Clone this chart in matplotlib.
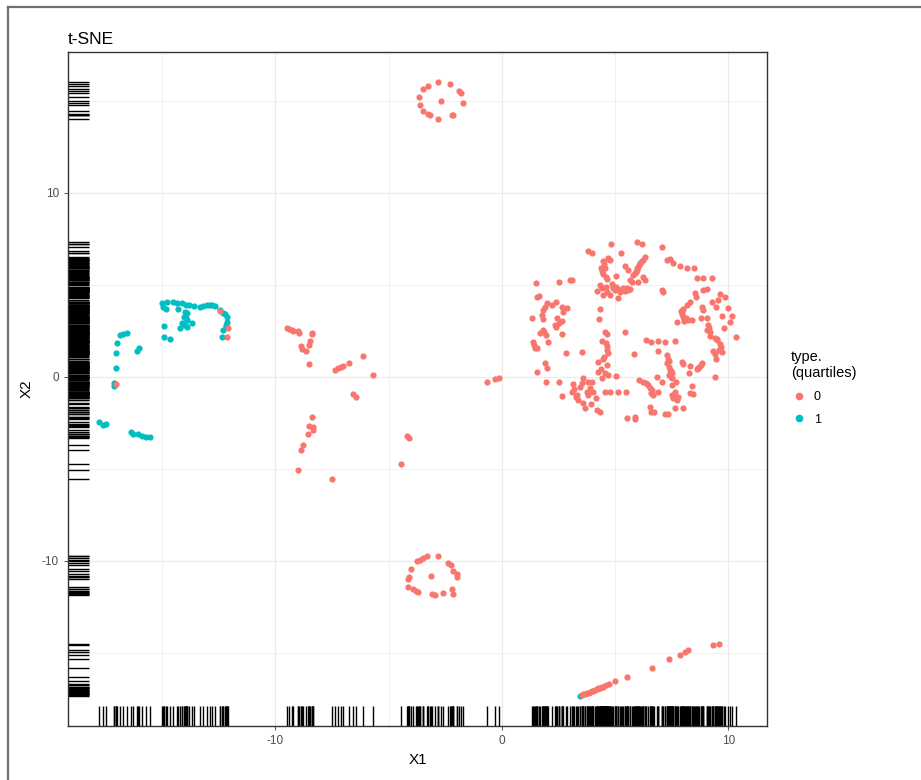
import numpy as np
import matplotlib
matplotlib.use("Agg")
import matplotlib.pyplot as plt
from matplotlib.lines import Line2D

plt.rcParams["font.family"] = ["Liberation Sans", "DejaVu Sans"]
plt.rcParams["axes.unicode_minus"] = False

# t-SNE embedding, type 0 (red), cluster by cluster
top_ring = [(-2.84, 16.02), (-2.30, 15.91), (-3.28, 15.82), (-3.50, 15.64), (-1.88, 15.56),
            (-1.82, 15.45), (-3.66, 15.23), (-2.69, 15.01), (-1.74, 14.87), (-3.62, 14.78),
            (-3.50, 14.47), (-3.25, 14.28), (-3.18, 14.24), (-2.22, 14.24), (-2.15, 14.24),
            (-2.84, 14.04)]

bottom_ring = [(-3.30, -9.73), (-3.48, -9.86), (-3.62, -9.95), (-3.77, -9.98), (-2.81, -9.73),
               (-2.37, -10.10), (-2.27, -10.22), (-2.15, -10.53), (-4.03, -10.46), (-3.13, -10.80),
               (-2.00, -10.71), (-1.97, -10.85), (-4.11, -10.89), (-4.14, -11.00), (-4.14, -11.40),
               (-3.94, -11.54), (-3.80, -11.62), (-3.70, -11.70), (-2.22, -11.54), (-2.18, -11.79),
               (-2.59, -11.72), (-3.10, -11.79), (-2.96, -11.85)]

middle = [(-9.51, 2.65), (-9.39, 2.59), (-9.29, 2.53), (-9.21, 2.52), (-8.99, 2.50), (-8.95, 2.37),
          (-8.40, 2.41), (-8.37, 2.32), (-8.48, 1.96), (-8.51, 1.74), (-8.89, 1.68), (-8.84, 1.50),
          (-8.65, 1.41), (-8.51, 0.72), (-7.37, 0.38), (-7.25, 0.47), (-7.12, 0.54), (-7.01, 0.60),
          (-6.74, 0.78), (-6.15, 1.16), (-5.71, 0.11), (-6.57, -0.94), (-6.46, -1.07),
          (-8.40, -2.16), (-8.51, -2.65), (-8.33, -2.74), (-8.33, -2.88), (-8.58, -3.12),
          (-8.80, -3.70), (-8.87, -3.97), (-9.02, -5.05), (-7.52, -5.54), (-4.21, -3.19),
          (-4.09, -3.33), (-4.46, -4.73), (-0.66, -0.27), (-0.31, -0.11), (-0.13, -0.05)]

red_in_teal = [(-12.45, 3.59), (-12.10, 2.66), (-12.14, 2.17), (-17.04, -0.38)]

diag_line = [(3.52, -17.30), (3.59, -17.25), (3.67, -17.22), (3.74, -17.20), (3.82, -17.16),
             (3.89, -17.12), (3.96, -17.08), (4.03, -17.05), (4.10, -17.01), (4.18, -16.98),
             (4.25, -16.93), (4.33, -16.89), (4.40, -16.86), (4.47, -16.83), (4.60, -16.76),
             (4.74, -16.68), (4.99, -16.52), (5.51, -16.32),
             (6.62, -15.83), (7.37, -15.34), (7.86, -15.13), (8.08, -14.95), (8.23, -14.86),
             (9.30, -14.57), (9.59, -14.53)]

big_left = [(4.80, 7.21), (3.81, 6.85), (3.96, 6.72), (5.25, 6.72), (4.69, 6.49), (4.47, 6.30),
            (4.77, 6.36), (4.37, 5.91), (4.55, 5.94), (4.44, 5.58), (4.59, 5.45), (5.03, 5.51),
            (5.43, 6.05), (5.58, 5.82), (5.80, 5.54), (5.65, 5.27), (1.50, 5.09), (2.52, 5.18),
            (3.00, 5.25), (3.08, 5.25), (4.33, 5.00), (4.40, 4.86), (4.21, 4.67), (4.59, 4.91),
            (4.84, 5.04), (4.92, 4.86), (5.14, 4.78), (5.36, 4.86), (5.50, 4.82), (5.65, 4.78),
            (5.21, 4.60), (4.77, 4.46), (4.47, 4.46), (5.14, 4.31), (1.56, 4.37), (1.65, 4.42),
            (2.38, 4.06), (2.00, 4.00), (1.90, 3.82), (1.82, 3.64), (2.63, 3.82), (2.86, 3.77),
            (2.71, 3.51), (1.75, 3.37), (1.31, 3.22), (1.82, 3.15), (2.63, 3.04), (2.53, 2.92),
            (2.34, 2.83), (2.38, 2.74), (4.33, 3.70), (4.30, 3.15), (4.55, 2.46), (4.62, 2.32),
            (5.43, 2.46), (1.80, 2.55), (1.85, 2.46), (1.94, 2.28), (2.63, 2.36), (2.05, 1.92),
            (1.38, 1.92), (1.46, 1.56), (1.56, 1.59), (4.40, 1.96), (4.65, 1.68), (4.65, 1.47),
            (4.69, 1.29), (2.83, 1.30), (3.52, 1.38), (5.83, 1.25), (1.90, 0.74), (1.97, 0.47),
            (1.53, 0.29), (4.25, 0.83), (4.65, 0.65), (4.25, 0.29), (4.55, 0.20), (4.69, 0.11),
            (4.40, -0.07), (5.03, 0.07), (1.94, -0.25), (2.52, -0.25), (3.15, -0.40), (3.59, -0.04),
            (3.52, -0.34), (3.81, -0.25), (3.96, -0.25), (3.18, -0.67), (3.08, -0.80), (3.74, -0.80),
            (4.00, -0.80), (2.63, -1.03), (3.30, -0.98), (3.37, -1.25), (3.81, -0.98), (4.15, -1.12),
            (3.59, -1.43), (3.66, -1.70), (4.18, -1.79), (4.33, -1.88), (4.55, -0.80), (4.77, -0.80),
            (5.14, -0.80), (5.47, -0.80), (5.50, -2.21), (5.87, -2.16)]

big_right = [(5.95, 7.36), (6.17, 7.21), (7.05, 7.08), (6.31, 6.54), (6.24, 6.36), (6.09, 6.18),
             (6.02, 6.00), (5.95, 5.82), (5.87, 5.63), (5.72, 5.18), (6.02, 5.18), (6.31, 5.27),
             (6.24, 5.45), (7.27, 6.36), (7.42, 6.41), (7.56, 6.18), (7.86, 6.05), (8.18, 5.94),
             (8.48, 5.94), (8.59, 5.36), (8.89, 5.36), (9.26, 5.36), (7.05, 4.73), (7.12, 4.64),
             (8.52, 4.55), (8.57, 4.37), (8.89, 4.73), (9.07, 4.78), (9.62, 4.49), (9.85, 4.37),
             (9.55, 4.18), (8.30, 4.09), (8.15, 3.91), (7.98, 3.70), (7.93, 3.51), (8.01, 3.28),
             (8.08, 3.15), (8.23, 3.10), (8.37, 3.10), (7.71, 2.97), (8.82, 3.82), (8.86, 3.64),
             (9.26, 4.09), (9.45, 3.82), (9.99, 3.77), (10.17, 3.33), (9.70, 3.33), (10.07, 3.01),
             (9.04, 3.22), (8.77, 3.22), (9.11, 2.83), (9.15, 2.64), (9.07, 2.55), (9.80, 2.64),
             (9.18, 2.25), (9.40, 2.14), (9.51, 2.07), (9.62, 1.78), (9.60, 1.47), (9.70, 1.34),
             (9.30, 1.41), (9.45, 0.98), (10.33, 2.19), (6.36, 2.01), (6.56, 1.88), (6.90, 1.96),
             (7.20, 1.92), (7.64, 1.96), (6.90, 1.41), (7.27, 1.20), (7.34, 0.98), (7.30, 0.74),
             (7.39, 0.56), (7.42, 0.38), (7.49, 0.20), (7.39, 0.11), (7.49, -0.07), (7.93, 0.83),
             (8.01, 0.69), (8.30, 0.62), (8.82, 0.74), (8.71, 0.56), (8.59, 0.43), (8.27, 0.20),
             (9.40, 0.02), (6.06, -0.18), (6.24, -0.25), (6.46, -0.43), (6.53, -0.62), (6.61, -0.71),
             (6.65, -0.98), (6.83, 0.02), (7.05, -0.25), (6.90, -0.80), (7.49, -0.43), (7.68, -0.25),
             (7.49, -0.98), (7.56, -1.16), (7.71, -1.25), (7.79, -1.07), (7.64, -0.80), (8.30, -0.89),
             (8.42, -0.94), (8.37, -0.47), (6.53, -1.61), (6.56, -1.88), (6.71, -1.88), (7.20, -2.03),
             (7.34, -2.03), (7.64, -1.70), (7.98, -1.67), (5.87, -2.28)]

# overlapping points inside the dense clumps of the big cluster
big_clumps = [(4.98, 4.70), (5.28, 4.72), (5.43, 4.65), (5.58, 4.70), (4.62, 4.60), (5.05, 4.90),
              (6.13, 6.27), (6.05, 6.10), (5.98, 5.90), (5.90, 5.73), (4.50, 1.10), (4.60, 1.85),
              (4.35, 0.45), (4.45, 0.95), (7.95, 3.40), (8.05, 3.05), (8.12, 3.20), (7.90, 3.60),
              (7.37, 0.85), (7.44, 0.30), (7.45, 0.02), (3.45, -0.55), (3.90, -0.60), (3.25, -1.10),
              (3.95, -1.45), (6.36, -0.35), (6.58, -0.85), (2.45, 3.20), (2.20, 3.90), (1.70, 2.40),
              (1.42, 1.75), (4.42, 5.75), (4.50, 6.15), (4.70, 6.42), (4.62, 5.30), (9.50, 2.00),
              (9.65, 1.62), (9.20, 2.45), (9.40, 1.25), (8.65, 0.50), (8.78, 0.66)]

# type 1 (teal)
teal = [(-15.01, 4.02), (-14.97, 3.80), (-14.83, 3.70), (-14.53, 4.08), (-14.35, 4.02),
        (-14.13, 4.02), (-13.95, 3.91), (-14.00, 3.53), (-13.90, 3.48), (-14.04, 3.26),
        (-13.90, 3.10), (-14.13, 2.93), (-13.69, 2.93), (-14.22, 2.66), (-13.90, 2.72),
        (-14.92, 2.77), (-14.92, 2.17), (-14.66, 2.07), (-13.33, 3.80), (-13.20, 3.86),
        (-13.02, 3.91), (-12.80, 3.91), (-12.67, 3.86), (-12.45, 3.64), (-12.32, 3.48),
        (-12.14, 3.26), (-12.14, 2.99), (-12.19, 2.72), (-12.32, 2.55), (-12.36, 2.17),
        (-16.73, 2.34), (-16.56, 2.39), (-16.87, 2.28), (-17.00, 1.85), (-17.04, 1.30),
        (-17.04, 0.49), (-17.13, -0.33), (-17.13, -0.49), (-16.11, 1.41), (-16.03, 1.58),
        (-17.79, -2.45), (-17.62, -2.61), (-17.48, -2.55), (-16.38, -2.99), (-16.29, -3.10),
        (-16.07, -3.10), (-15.89, -3.21), (-15.72, -3.26), (-15.54, -3.26), (3.45, -17.36),
        (-14.80, 4.05), (-13.80, 3.92), (-13.60, 3.88), (-14.30, 3.70), (-13.95, 3.20),
        (-12.90, 3.93), (-12.23, 3.40), (-12.20, 2.85), (-14.00, 2.85)]

red = np.array(top_ring + bottom_ring + middle + red_in_teal + diag_line + big_left + big_right + big_clumps)
blue = np.array(teal)
allpts = np.vstack([red, blue])

col0 = "#F8766D"
col1 = "#00BFC4"

fig = plt.figure(figsize=(9.21, 7.8), dpi=100)
ax = fig.add_axes([68/921, 1 - 726/780, (767-68)/921, (726-52)/780])

ax.scatter(blue[:, 0], blue[:, 1], s=20, c=col1, linewidths=0, zorder=3)
ax.scatter(red[:, 0], red[:, 1], s=20, c=col0, linewidths=0, zorder=3)

# rugs
ax.vlines(allpts[:, 0], 0, 0.03, transform=ax.get_xaxis_transform(), colors="black", lw=1.0, zorder=2)
ax.hlines(allpts[:, 1], 0, 0.03, transform=ax.get_yaxis_transform(), colors="black", lw=1.0, zorder=2)

ax.set_xlim(-19.16, 11.7)
ax.set_ylim(-18.97, 17.66)
ax.set_xticks([-10, 0, 10])
ax.set_yticks([-10, 0, 10])
ax.set_xticks([-15, -5, 5], minor=True)
ax.set_yticks([-15, -5, 5, 15], minor=True)
ax.grid(which="major", color="#EBEBEB", lw=0.9, zorder=0)
ax.grid(which="minor", color="#EBEBEB", lw=0.5, zorder=0)
ax.set_axisbelow(True)
ax.tick_params(which="major", length=3, width=0.6, color="#333333", labelsize=8.5, labelcolor="#4D4D4D")
ax.tick_params(which="minor", length=0)
for sp in ax.spines.values():
    sp.set_color("#333333")
    sp.set_linewidth(1.0)

ax.set_xlabel("X1", fontsize=11, labelpad=4)
ax.set_ylabel("X2", fontsize=11, labelpad=6)
ax.set_title("t-SNE", loc="left", fontsize=12.5, pad=6)

handles = [Line2D([], [], marker="o", ls="", color=col0, markersize=4.5),
           Line2D([], [], marker="o", ls="", color=col1, markersize=4.5)]
leg = fig.legend(handles, ["0", "1"], title="type.\n(quartiles)", loc="upper left",
                 bbox_to_anchor=(780/921, 1 - 339/780), frameon=False, fontsize=9,
                 title_fontsize=10.5, handlelength=1.2, handletextpad=0.6, labelspacing=0.85,
                 alignment="left")

# window frame from the screenshot
fig.add_artist(Line2D([8/921, 8/921], [0, 1 - 7/780], color="#707070", lw=1.6))
fig.add_artist(Line2D([8/921, 1], [1 - 7/780, 1 - 7/780], color="#707070", lw=1.6))

fig.savefig("out.png", dpi=100)
